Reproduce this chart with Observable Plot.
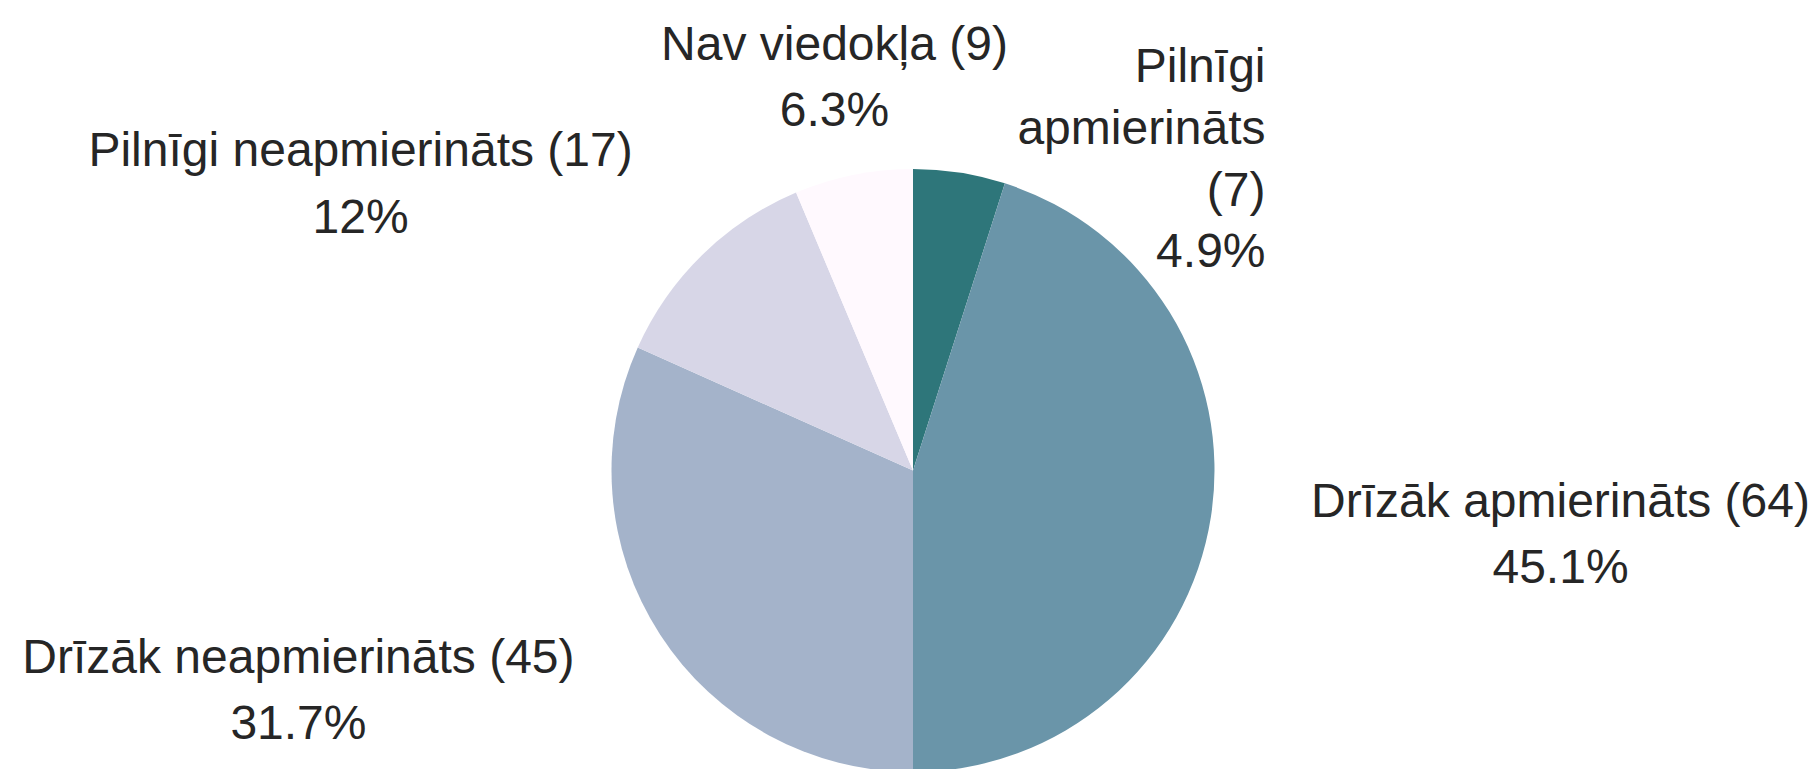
<!DOCTYPE html>
<html>
<head>
<meta charset="utf-8">
<script src="https://cdn.jsdelivr.net/npm/d3@7"></script>
<script src="https://cdn.jsdelivr.net/npm/@observablehq/plot@0.6"></script>
<style>
  html, body { margin: 0; padding: 0; background: #ffffff; overflow: hidden; }
  #chart svg { display: block; }
</style>
</head>
<body>
<div id="chart"></div>
<script>
// ---- data ----
const categories = ["Pilnīgi apmierināts", "Drīzāk apmierināts", "Drīzāk neapmierināts", "Pilnīgi neapmierināts", "Nav viedokļa"];
const counts = [7, 64, 45, 17, 9];
const colors = ["#2e767a", "#6a95a9", "#a4b3ca", "#d7d6e7", "#fff9fe"];

// ---- label layout (unit = pie radius, origin = pie centre) ----
const labelLayout = [
  {x: 1.1675, y: 0.675, anchor: "end", lineHeight: 1.29, wrap: true},
  {x: 2.146, y: -0.373, anchor: "middle", lineHeight: 1.39, wrap: false},
  {x: -2.040, y: -0.8905, anchor: "middle", lineHeight: 1.39, wrap: false},
  {x: -1.834, y: 0.789, anchor: "middle", lineHeight: 1.39, wrap: false},
  {x: -0.262, y: 1.143, anchor: "middle", lineHeight: 1.39, wrap: false}
];

const total = d3.sum(counts);
const slices = categories.map((c, i) => ({category: c, count: counts[i], color: colors[i]}));
const pctText = v => {
  const p = Math.round(v / total * 1000) / 10;
  return `${p}%`;
};
const labels = slices.map((s, i) => {
  const L = labelLayout[i];
  let name = `${s.category} (${s.count})`;
  if (L.wrap) name = name.replace(/ /g, "\n");
  return {...L, text: `${name}\n${pctText(s.count)}`};
});

const pieGen = d3.pie().sort(null).value(d => d.count).startAngle(0).endAngle(2 * Math.PI);

function pieMark(index, scales) {
  const cx = scales.x(0), cy = scales.y(0);
  const r = Math.abs(scales.x(1) - scales.x(0));
  const arc = d3.arc().innerRadius(0).outerRadius(r);
  const g = d3.create("svg:g").attr("transform", `translate(${cx},${cy})`);
  g.selectAll("path")
    .data(pieGen(slices))
    .join("path")
    .attr("d", arc)
    .attr("fill", d => d.data.color);
  return g.node();
}

const textMarks = labels.map(l => Plot.text([l], {
  x: "x", y: "y", text: "text",
  textAnchor: l.anchor,
  lineAnchor: "bottom",
  lineHeight: l.lineHeight,
  fontSize: 48,
  fill: "#262626"
}));

const chart = Plot.plot({
  width: 1817,
  height: 769,
  margin: 0,
  x: {domain: [-1, 1], range: [611.5, 1214.5], axis: null},
  y: {domain: [-1, 1], range: [772, 169], axis: null},
  style: {fontFamily: "'Liberation Sans', Arial, sans-serif", background: "#ffffff"},
  marks: [
    pieMark,
    ...textMarks
  ]
});
document.getElementById("chart").appendChild(chart);
</script>
</body>
</html>
